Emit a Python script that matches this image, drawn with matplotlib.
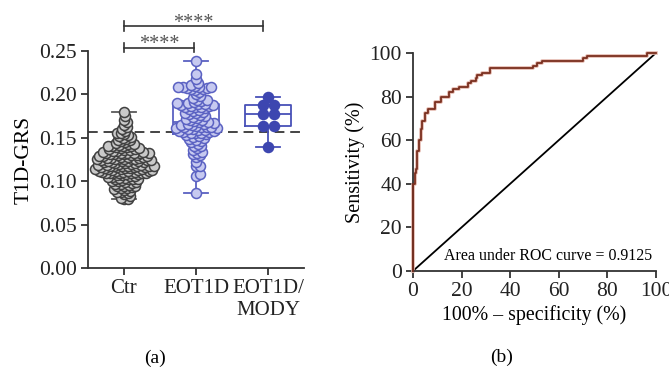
import numpy as np
import matplotlib
matplotlib.use('Agg')
import matplotlib.pyplot as plt

plt.rcParams['font.family'] = ['Liberation Serif', 'DejaVu Serif']

# ---- data ----
groups = ['Ctr', 'EOT1D', 'EOT1D/\nMODY']

ctr = [0.079, 0.080, 0.081, 0.083, 0.085, 0.086, 0.087, 0.088, 0.089, 0.090,
       0.091, 0.092, 0.092, 0.093, 0.094, 0.095, 0.095, 0.096, 0.097, 0.097,
       0.098, 0.099, 0.099, 0.100, 0.100, 0.101, 0.102, 0.102, 0.103, 0.103,
       0.104, 0.104, 0.105, 0.105, 0.106, 0.106, 0.107, 0.107, 0.108, 0.108,
       0.109, 0.109, 0.109, 0.110, 0.110, 0.110, 0.110, 0.111, 0.111, 0.111,
       0.112, 0.112, 0.112, 0.112, 0.113, 0.113, 0.113, 0.114, 0.114, 0.114,
       0.114, 0.115, 0.115, 0.115, 0.116, 0.116, 0.116, 0.116, 0.117, 0.117,
       0.117, 0.118, 0.118, 0.118, 0.118, 0.119, 0.119, 0.119, 0.120, 0.120,
       0.121, 0.121, 0.121, 0.122, 0.122, 0.122, 0.123, 0.123, 0.123, 0.123,
       0.124, 0.124, 0.124, 0.125, 0.125, 0.125, 0.126, 0.126, 0.126, 0.127,
       0.127, 0.127, 0.128, 0.128, 0.128, 0.129, 0.129, 0.129, 0.130, 0.130,
       0.130, 0.131, 0.131, 0.131, 0.132, 0.132, 0.132, 0.133, 0.133, 0.133,
       0.134, 0.134, 0.135, 0.135, 0.136, 0.136, 0.137, 0.137, 0.138, 0.138,
       0.139, 0.139, 0.140, 0.140, 0.141, 0.141, 0.142, 0.143, 0.143, 0.144,
       0.145, 0.146, 0.147, 0.148, 0.149, 0.150, 0.151, 0.152, 0.153, 0.154,
       0.155, 0.156, 0.158, 0.160, 0.162, 0.165, 0.168, 0.171, 0.175, 0.180]

eot1d = [0.086, 0.106, 0.108, 0.117, 0.118, 0.122, 0.128, 0.130, 0.131, 0.133,
         0.134, 0.136, 0.138, 0.140, 0.141, 0.143, 0.145, 0.146, 0.148, 0.149,
         0.150, 0.151, 0.152, 0.153, 0.154,
         0.155, 0.156, 0.156, 0.157, 0.157, 0.158, 0.158, 0.159, 0.159, 0.160,
         0.160, 0.161, 0.161, 0.162, 0.162, 0.163, 0.163, 0.164, 0.165, 0.165,
         0.166, 0.166, 0.167, 0.168, 0.168,
         0.169, 0.170, 0.171, 0.172, 0.173, 0.174, 0.175, 0.176, 0.177, 0.178,
         0.179, 0.180, 0.181, 0.182, 0.183, 0.184, 0.185, 0.186, 0.186, 0.187,
         0.187, 0.188, 0.188, 0.189, 0.189,
         0.190, 0.190, 0.191, 0.192, 0.193, 0.194, 0.196, 0.198, 0.200, 0.203,
         0.205, 0.206, 0.206, 0.207, 0.207, 0.208, 0.208, 0.209, 0.209, 0.210,
         0.211, 0.213, 0.218, 0.224, 0.238]

mody = [0.139, 0.164, 0.164, 0.177, 0.177, 0.188, 0.188, 0.197]

cutoff = 0.157

# ROC curve, (100% - specificity, sensitivity)
roc_fpr = [0, 0, 0.8, 1.4, 1.8, 2.6, 3.2, 3.8, 4.9, 6.3, 9.0, 11.4, 15.0, 16.6,
           19.0, 22.8, 24.0, 25.8, 26.2, 28.3, 31.7, 49.5, 51.0, 53.0, 69.8,
           71.7, 96.2, 100]
roc_tpr = [0, 40, 45, 47, 55, 60, 65, 69, 72.5, 74.5, 77.5, 80, 82, 83.5,
           84.5, 86, 87, 88.5, 90, 91, 93, 94, 95.5, 96.5, 97.5, 98.5, 100, 100]
auc_text = 'Area under ROC curve = 0.9125'


def swarm_offsets(ax, x0, values, min_dist, center_ties=False):
    """Простой beeswarm в пикселях, возвращает x в единицах данных."""
    pts = ax.transData.transform(np.column_stack([np.full(len(values), x0), values]))
    ys = pts[:, 1]
    xs = np.zeros(len(values))
    placed = []
    for i in np.argsort(ys, kind='stable'):
        y = ys[i]
        near = [(px, py) for px, py in placed if abs(py - y) < min_dist]
        cands = [0.0]
        for px, py in near:
            dx = np.sqrt(min_dist ** 2 - (py - y) ** 2)
            cands += [px + dx, px - dx]
        cands.sort(key=abs)
        for c in cands:
            if all((c - px) ** 2 + (y - py) ** 2 >= min_dist ** 2 - 1e-6 for px, py in near):
                break
        placed.append((c, y))
        xs[i] = c
    if center_ties:
        # ряды с одинаковыми значениями центрируем
        vals = np.asarray(values)
        for v in np.unique(vals):
            m = vals == v
            xs[m] -= xs[m].mean()
    inv = ax.transData.inverted()
    return inv.transform(np.column_stack([pts[:, 0] + xs, ys]))[:, 0]


fig = plt.figure(figsize=(6.69, 3.73), dpi=100)
axis_col = '#333333'

# ---- (a) ----
ax1 = fig.add_axes([0.1315, 0.2815, 0.323, 0.5818])
ax1.set_xlim(-0.5, 2.5)
ax1.set_ylim(0, 0.25)

box_cols = ['#5a5a5a', '#5a61c2', '#4850b8']
bp = ax1.boxplot([ctr, eot1d, mody], positions=[0, 1, 2], widths=0.65,
                 whis=(0, 100), capwidths=0.34, showfliers=False)
for k, c in enumerate(box_cols):
    bp['boxes'][k].set(color=c, linewidth=1.3)
    bp['medians'][k].set(color=c, linewidth=1.3)
    for part in ('whiskers', 'caps'):
        for ln in bp[part][2 * k:2 * k + 2]:
            ln.set(color=c, linewidth=1.3)

ax1.axhline(cutoff, color='#444444', lw=1.4, ls=(0, (5, 3)), zorder=1)

styles = [(ctr, '#c9c9c9', '#404040', 3.75, False),
          (eot1d, '#c6c9f0', '#5a61c2', 4.3, False),
          (mody, '#3d46b0', '#3d46b0', 11.0, True)]
for k, (vals, fc, ec, d, ct) in enumerate(styles):
    xs = swarm_offsets(ax1, k, vals, d, ct)
    ax1.plot(xs, vals, 'o', ms=7.2, mfc=fc, mec=ec, mew=1.1, zorder=3, clip_on=False)

ax1.set_yticks(np.arange(0, 0.26, 0.05))
ax1.set_yticklabels(['%.2f' % v for v in np.arange(0, 0.26, 0.05)])
ax1.set_xticks([0, 1, 2])
ax1.set_xticklabels(groups, linespacing=1.2)
ax1.set_ylabel('T1D-GRS', fontsize=15.5, labelpad=4)

# significance bars
for x1, x2, yb, ys in [(0, 1.93, 0.279, 0.2822), (0, 0.97, 0.254, 0.2572)]:
    ax1.plot([x1, x2], [yb, yb], color='#333333', lw=1.2, clip_on=False)
    for xx in (x1, x2):
        ax1.plot([xx, xx], [yb - 0.0055, yb + 0.0055], color='#333333', lw=1.2, clip_on=False)
    ax1.text((x1 + x2) / 2, ys, '****', ha='center', va='center', fontsize=14.5,
             color='#555555', clip_on=False)

fig.text(0.232, 0.04, '(a)', ha='center', va='center', fontsize=14)

# ---- (b) ----
ax2 = fig.add_axes([0.6173, 0.2735, 0.3632, 0.5845])
ax2.set_xlim(0, 100)
ax2.set_ylim(0, 100)
ax2.plot([0, 100], [0, 100], color='black', lw=1.3, clip_on=False)
ax2.plot(roc_fpr, roc_tpr, drawstyle='steps-post', color='#e3b8ae', lw=2.6,
         clip_on=False, zorder=2)
ax2.plot(roc_fpr, roc_tpr, drawstyle='steps-post', color='#7a2f1f', lw=1.3,
         clip_on=False, zorder=3)
ax2.set_xticks(np.arange(0, 101, 20))
ax2.set_yticks(np.arange(0, 101, 20))
ax2.set_xlabel('100% \u2013 specificity (%)', fontsize=14.3, labelpad=3)
ax2.set_ylabel('Sensitivity (%)', fontsize=14.5, labelpad=3)
ax2.text(0.985, 0.07, auc_text, transform=ax2.transAxes, ha='right', va='center',
         fontsize=11.4)

fig.text(0.75, 0.043, '(b)', ha='center', va='center', fontsize=14)

for ax in (ax1, ax2):
    for s in ('top', 'right'):
        ax.spines[s].set_visible(False)
    for s in ('left', 'bottom'):
        ax.spines[s].set_color(axis_col)
        ax.spines[s].set_linewidth(1.3)
    ax.tick_params(direction='out', length=5, width=1.3, color=axis_col,
                   labelsize=15.5, labelcolor='#222222', pad=3)
ax1.tick_params(axis='x', labelsize=15)

fig.savefig('out.png', dpi=100)
